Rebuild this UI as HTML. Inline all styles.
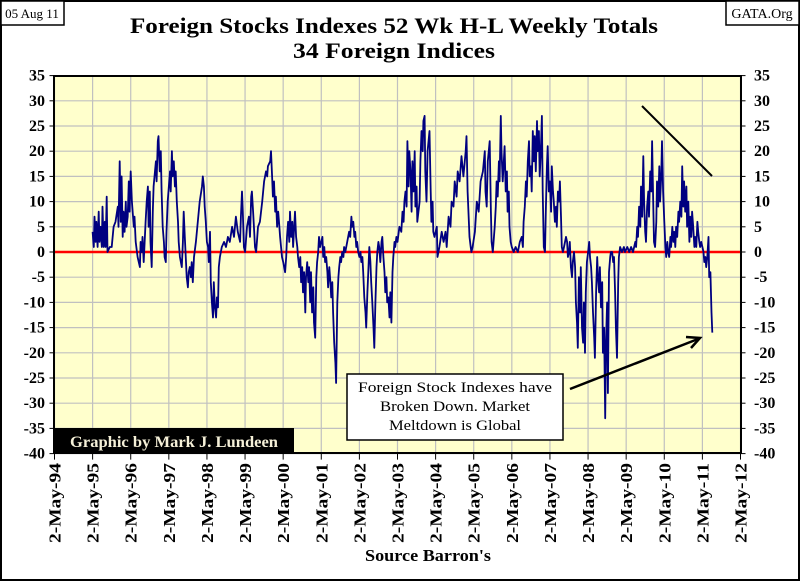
<!DOCTYPE html>
<html><head><meta charset="utf-8"><style>
body{margin:0;background:#fff}
svg{display:block;font-family:"Liberation Serif",serif}
</style></head><body>
<svg id="chart" width="800" height="581" viewBox="0 0 800 581">
<rect x="1" y="1" width="798" height="579" fill="#fff" stroke="#000" stroke-width="2"/>
<rect x="1" y="1" width="63" height="24" fill="#fff" stroke="#000" stroke-width="1.5"/>
<text x="32" y="18" font-size="13" text-anchor="middle">05 Aug 11</text>
<rect x="726" y="1" width="73" height="24" fill="#fff" stroke="#000" stroke-width="1.5"/>
<text x="762" y="18" font-size="14" text-anchor="middle">GATA.Org</text>
<text x="394" y="33" font-size="22" font-weight="bold" text-anchor="middle" textLength="528" lengthAdjust="spacingAndGlyphs">Foreign Stocks Indexes 52 Wk H-L Weekly Totals</text>
<text x="394" y="58" font-size="22" font-weight="bold" text-anchor="middle" textLength="202" lengthAdjust="spacingAndGlyphs">34 Foreign Indices</text>
<rect x="54" y="76" width="687" height="377" fill="#ffffcc"/>
<g id="grid"></g>
<g id="axes"></g>
<line id="zeroline" stroke="#ff0000" stroke-width="2.5"/>
<path id="series" fill="none" stroke="#000080" stroke-width="1.8" stroke-linejoin="round"/>
<rect x="54" y="76" width="687" height="377" fill="none" stroke="#000" stroke-width="2"/>
<rect x="54" y="428" width="240" height="25" fill="#000"/>
<text x="174" y="447" font-size="16" font-weight="bold" fill="#f5f0d8" text-anchor="middle" textLength="208" lengthAdjust="spacingAndGlyphs">Graphic by Mark J. Lundeen</text>
<rect x="347" y="374" width="216" height="66" fill="#fff" stroke="#000" stroke-width="1.5"/>
<text x="455" y="392" font-size="15" text-anchor="middle" textLength="194" lengthAdjust="spacingAndGlyphs">Foreign Stock Indexes have</text>
<text x="455" y="411" font-size="15" text-anchor="middle" textLength="150" lengthAdjust="spacingAndGlyphs">Broken Down.  Market</text>
<text x="455" y="430" font-size="15" text-anchor="middle" textLength="132" lengthAdjust="spacingAndGlyphs">Meltdown  is Global</text>
<line x1="570" y1="389" x2="698" y2="339" stroke="#000" stroke-width="2.5"/>
<path d="M686,337 L700,338 L691,348" fill="none" stroke="#000" stroke-width="2.5"/>
<line x1="642" y1="106" x2="712" y2="176" stroke="#000" stroke-width="2"/>
<text x="428" y="561" font-size="17" font-weight="bold" text-anchor="middle" textLength="126" lengthAdjust="spacingAndGlyphs">Source Barron's</text>
</svg>
<script>
const yTicks=[35,30,25,20,15,10,5,0,-5,-10,-15,-20,-25,-30,-35,-40];
const xTickYears=[1994,1995,1996,1997,1998,1999,2000,2001,2002,2003,2004,2005,2006,2007,2008,2009,2010,2011,2012];
const xTickLabels=["2-May-94","2-May-95","2-May-96","2-May-97","2-May-98","2-May-99","2-May-00","2-May-01","2-May-02","2-May-03","2-May-04","2-May-05","2-May-06","2-May-07","2-May-08","2-May-09","2-May-10","2-May-11","2-May-12"];
const dates=[
1995.00,1995.03,1995.05,1995.08,1995.10,1995.13,1995.16,1995.18,1995.21,1995.24,1995.26,1995.29,1995.32,1995.34,1995.37,1995.39,1995.45,1995.50,1995.55,1995.60,1995.66,1995.68,1995.71,1995.74,1995.76,1995.79,1995.81,1995.84,1995.87,1995.89,1995.92,1995.95,1995.97,
1996.00,1996.03,1996.08,1996.10,1996.13,1996.18,1996.24,1996.26,1996.29,1996.31,1996.34,1996.39,1996.42,1996.45,1996.47,1996.50,1996.52,1996.55,1996.58,1996.60,1996.66,1996.68,1996.71,1996.73,1996.76,1996.79,1996.81,1996.84,1996.87,1996.89,1996.92,1996.94,1996.97,
1997.03,1997.05,1997.08,1997.10,1997.13,1997.16,1997.18,1997.21,1997.24,1997.26,1997.29,1997.34,1997.37,1997.39,1997.42,1997.45,1997.47,1997.50,1997.52,1997.55,1997.58,1997.60,1997.63,1997.66,1997.71,1997.76,1997.81,1997.87,1997.89,1997.92,1997.94,1997.97,
1998.00,1998.03,1998.05,1998.08,1998.10,1998.13,1998.16,1998.18,1998.21,1998.24,1998.26,1998.29,1998.31,1998.34,1998.39,1998.45,1998.50,1998.55,1998.60,1998.66,1998.71,1998.76,1998.81,1998.87,1998.89,1998.92,1998.94,1998.97,
1999.00,1999.05,1999.10,1999.13,1999.16,1999.18,1999.21,1999.24,1999.26,1999.29,1999.31,1999.34,1999.39,1999.45,1999.50,1999.55,1999.58,1999.60,1999.66,1999.68,1999.71,1999.73,1999.76,1999.79,1999.81,1999.84,1999.87,1999.89,1999.92,1999.97,
2000.00,2000.05,2000.08,2000.10,2000.13,2000.16,2000.18,2000.21,2000.24,2000.26,2000.29,2000.31,2000.34,2000.37,2000.39,2000.42,2000.45,2000.47,2000.50,2000.52,2000.55,2000.58,2000.60,2000.63,2000.66,2000.68,2000.71,2000.73,2000.76,2000.79,2000.81,2000.84,2000.87,2000.89,2000.92,2000.94,2000.97,
2001.00,2001.03,2001.05,2001.08,2001.10,2001.13,2001.16,2001.18,2001.21,2001.24,2001.26,2001.29,2001.31,2001.34,2001.37,2001.39,2001.42,2001.45,2001.47,2001.50,2001.52,2001.55,2001.58,2001.60,2001.63,2001.68,2001.73,2001.76,2001.79,2001.81,2001.84,2001.87,2001.89,2001.92,2001.94,2001.97,
2002.00,2002.03,2002.05,2002.08,2002.10,2002.13,2002.16,2002.18,2002.21,2002.24,2002.26,2002.29,2002.31,2002.34,2002.37,2002.39,2002.42,2002.45,2002.47,2002.50,2002.52,2002.55,2002.58,2002.60,2002.63,2002.66,2002.68,2002.71,2002.73,2002.76,2002.79,2002.81,2002.84,2002.87,2002.89,2002.92,2002.94,2002.97,
2003.00,2003.05,2003.10,2003.13,2003.16,2003.18,2003.21,2003.24,2003.26,2003.29,2003.31,2003.34,2003.37,2003.39,2003.42,2003.45,2003.47,2003.50,2003.52,2003.58,2003.60,2003.63,2003.66,2003.68,2003.71,2003.73,2003.76,2003.79,2003.84,2003.87,2003.89,2003.92,2003.94,2003.97,
2004.03,2004.05,2004.10,2004.16,2004.21,2004.26,2004.29,2004.34,2004.39,2004.42,2004.47,2004.50,2004.55,2004.58,2004.63,2004.68,2004.73,2004.79,2004.81,2004.84,2004.89,2004.92,2004.94,2004.97,
2005.03,2005.08,2005.13,2005.18,2005.24,2005.29,2005.31,2005.34,2005.37,2005.42,2005.45,2005.47,2005.50,2005.55,2005.58,2005.60,2005.63,2005.66,2005.68,2005.71,2005.73,2005.76,2005.79,2005.81,2005.84,2005.87,2005.89,2005.92,2005.94,2005.97,
2006.00,2006.05,2006.10,2006.16,2006.21,2006.26,2006.29,2006.31,2006.34,2006.37,2006.39,2006.42,2006.45,2006.47,2006.50,2006.52,2006.55,2006.58,2006.60,2006.63,2006.66,2006.68,2006.71,2006.73,2006.76,2006.79,2006.81,2006.84,2006.87,2006.89,2006.92,2006.94,2006.97,
2007.00,2007.03,2007.05,2007.08,2007.10,2007.13,2007.16,2007.18,2007.21,2007.24,2007.26,2007.29,2007.31,2007.34,2007.37,2007.42,2007.45,2007.47,2007.50,2007.52,2007.55,2007.58,2007.60,2007.63,2007.66,2007.68,2007.71,2007.73,2007.76,2007.79,2007.81,2007.84,2007.87,2007.89,2007.92,2007.94,2007.97,
2008.00,2008.03,2008.05,2008.08,2008.10,2008.13,2008.16,2008.18,2008.21,2008.24,2008.26,2008.29,2008.31,2008.34,2008.37,2008.39,2008.42,2008.45,2008.47,2008.50,2008.52,2008.55,2008.58,2008.60,2008.63,2008.66,2008.68,2008.71,2008.73,2008.76,2008.79,2008.81,2008.84,2008.89,2008.94,2008.97,
2009.03,2009.08,2009.13,2009.18,2009.24,2009.26,2009.29,2009.31,2009.34,2009.37,2009.39,2009.42,2009.45,2009.47,2009.50,2009.52,2009.55,2009.58,2009.60,2009.63,2009.66,2009.68,2009.71,2009.73,2009.76,2009.79,2009.81,2009.84,2009.87,2009.89,2009.92,2009.94,2009.97,
2010.00,2010.03,2010.05,2010.08,2010.10,2010.13,2010.16,2010.18,2010.21,2010.24,2010.26,2010.29,2010.31,2010.34,2010.37,2010.39,2010.42,2010.45,2010.47,2010.50,2010.52,2010.55,2010.58,2010.60,2010.63,2010.66,2010.68,2010.71,2010.73,2010.76,2010.79,2010.81,2010.84,2010.87,2010.89,2010.92,2010.94,2010.97,
2011.00,2011.03,2011.05,2011.08,2011.10,2011.13,2011.16,2011.18,2011.21,2011.24,2011.26];
const values=[
4,1,7,2,6,1,8,2,5,1,9,1,6,1,11,0,1,1,5,6,9,5,18,6,15,3,8,4,10,5,7,14,8,
16,10,5,7,2,-1,-3,2,0,3,-2,6,10,13,5,12,2,-3,8,13,18,14,22,23,16,20,12,5,2,-1,-2,4,10,
16,12,20,15,18,13,16,10,6,2,-1,-3,2,8,3,-2,-5,-7,-4,-3,-5,-2,-6,-1,2,6,10,13,15,13,9,6,
2,1,-2,4,-6,-10,-13,-6,-11,-13,-9,-11,-3,-1,1,2,1,3,2,5,3,7,4,2,7,12,8,1,
0,5,7,3,11,12,8,4,1,0,2,5,6,10,14,16,15,17,18,20,15,11,14,8,11,5,8,6,3,-1,
-2,-4,-1,3,6,2,8,3,6,1,5,8,3,1,-1,-3,-1,-6,-3,-8,-4,-12,-5,-2,-6,-3,-10,-4,-12,-7,-14,-17,-5,-2,0,3,1,
2,3,-1,1,-2,-1,-4,-7,-3,-6,-9,-6,-12,-18,-22,-26,-10,-5,-3,-1,-2,0,-1,1,0,2,4,3,7,5,6,3,4,1,2,0,
-1,0,-2,-1,-4,-9,-12,-15,-8,-3,1,-2,-6,-10,-15,-19,-10,-3,0,2,1,-2,2,3,-1,-4,-8,-5,-10,-9,-13,-8,-14,-4,-1,2,1,3,
2,5,4,8,6,10,12,9,22,13,20,16,8,18,12,20,9,13,6,10,18,24,20,26,27,16,10,20,24,12,6,10,4,3,
5,-1,1,4,2,4,1,7,5,10,9,14,11,16,14,19,15,20,23,12,3,1,0,1,
4,10,8,14,16,20,12,9,18,22,8,2,0,5,9,14,11,18,14,27,20,14,18,21,12,16,8,12,5,2,
1,0,1,0,2,3,1,6,9,14,11,18,22,15,17,12,24,18,23,16,26,20,24,15,20,27,12,1,0,8,17,21,12,
14,8,17,12,10,6,9,5,12,10,14,7,1,0,1,3,2,-1,0,2,-3,-5,-2,0,-3,-10,-14,-19,-5,-12,-3,-15,-18,-10,-20,-8,-2,
0,2,-1,-3,-6,-12,-17,-21,-8,-1,-5,-8,-3,-11,-6,-20,-15,-33,-18,-10,-28,-4,-1,0,0,-2,-1,-8,-15,-21,-6,-1,1,0,1,0,
1,0,1,0,2,1,5,3,9,5,13,7,19,10,4,2,9,12,7,16,12,22,10,2,1,6,14,9,17,10,15,22,12,
6,1,-1,2,0,-1,3,1,5,2,4,1,5,3,8,6,10,7,17,9,14,8,13,5,10,2,7,3,8,5,1,3,1,6,4,2,1,2,
1,0,-2,-1,-3,-1,3,-5,-4,-12,-16];

const X0=54.5,X1=740.5,Y0=75.6,Y1=453.6;
function xScale(yr){return X0+(yr-1994)/(2012-1994)*(X1-X0);}
function yScale(v){return Y1-(v-(-40))/(35-(-40))*(Y1-Y0);}
const NS="http://www.w3.org/2000/svg";
const grid=document.getElementById('grid'),axes=document.getElementById('axes');
function mk(tag,attrs,parent){const e=document.createElementNS(NS,tag);for(const k in attrs)e.setAttribute(k,attrs[k]);parent.appendChild(e);return e;}
yTicks.forEach(v=>{
  const y=yScale(v);
  const g=mk('line',{x1:X0,x2:X1,y1:y,y2:y,stroke:'#c0c0c0','stroke-width':1.2},grid);
  
  
  const t1=mk('line',{x1:X0-5,x2:X0,y1:y,y2:y,stroke:'#000'},axes);
  
  
  const t2=mk('line',{x1:X1,x2:X1+5,y1:y,y2:y,stroke:'#000'},axes);
  
  
  const l=mk('text',{x:45,y:y+5,'font-size':16,'font-weight':'bold','text-anchor':'end'},axes);
  l.textContent=v;
  
  
  const r=mk('text',{x:754,y:y+5,'font-size':16,'font-weight':'bold','text-anchor':'start'},axes);
  r.textContent=v;
  
  
});
xTickYears.forEach((yr,i)=>{
  const x=xScale(yr);
  const g=mk('line',{x1:x,x2:x,y1:Y0,y2:Y1,stroke:'#c0c0c0','stroke-width':1.2},grid);
  
  
  const t=mk('line',{x1:x,x2:x,y1:Y1,y2:Y1+6,stroke:'#000'},axes);
  
  
  const l=mk('text',{x:0,y:0,'font-size':17,'font-weight':'bold','text-anchor':'end',textLength:80,lengthAdjust:'spacingAndGlyphs',transform:'translate('+(x+6)+',463) rotate(-90)'},axes);
  l.textContent=xTickLabels[i];
  
  
});
const z=document.getElementById('zeroline');
z.setAttribute('x1',X0);z.setAttribute('x2',X1);z.setAttribute('y1',yScale(0));z.setAttribute('y2',yScale(0));
let d='';
for(let i=0;i<dates.length;i++){d+=(i?'L':'M')+xScale(dates[i]).toFixed(1)+','+yScale(values[i]).toFixed(1);}
document.getElementById('series').setAttribute('d',d);
</script>
</body></html>
